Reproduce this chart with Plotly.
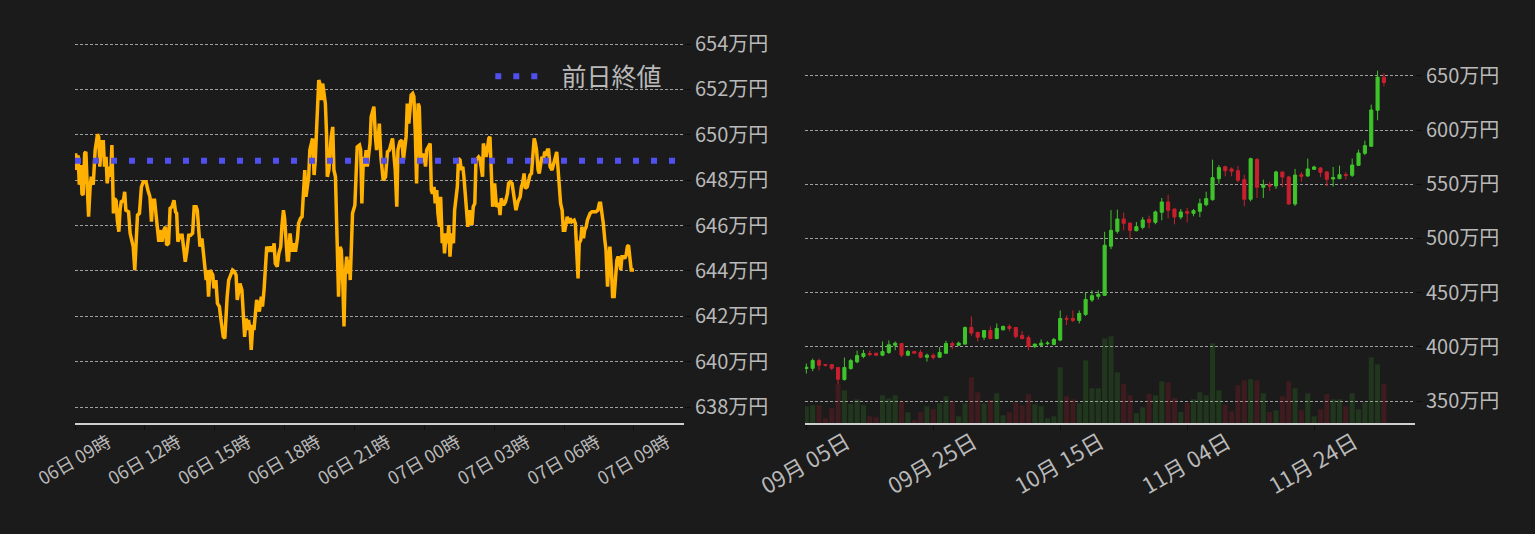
import plotly.graph_objects as go
import pandas as pd

# ---------------- data ----------------
# Intraday price (万円), minutes elapsed since 2023-12-06 09:00
intraday_minutes = [
    0, 2, 4, 8, 11, 15, 18, 21, 25, 28, 32, 35, 39, 42, 47, 52, 58, 61, 64, 68,
    73, 76, 80, 83, 88, 92, 95, 99, 102, 106, 109, 113, 116, 119, 125, 128, 131, 138, 142, 147,
    150, 154, 157, 161, 166, 171, 176, 183, 188, 193, 197, 200, 205, 209, 212, 216, 219, 224, 229, 233,
    236, 241, 245, 250, 255, 259, 262, 265, 271, 276, 279, 284, 288, 293, 298, 303, 307, 312, 315, 319,
    322, 327, 331, 334, 338, 341, 344,
    348, 355, 358, 363, 367, 372, 375, 379, 382, 386, 389, 392, 396, 401, 406, 411, 415, 418, 422, 425,
    430, 434, 437, 441, 444, 447, 451, 454, 458, 461, 465, 468, 471, 475, 480, 483, 487, 490, 494, 499,
    504, 509, 513, 516, 521, 525, 530, 533, 537, 540, 544, 547, 550, 554, 559, 564, 568, 573, 576, 581,
    585, 588, 592, 595, 599, 602, 605, 609, 612, 616, 619, 623, 626, 628, 631, 635, 638, 642, 645, 648,
    650, 654, 657, 660, 664, 667, 671, 674, 678, 679, 683, 686, 690, 693, 696, 700, 703, 707,
    709, 712, 715, 721, 724, 727, 733, 736, 739, 743, 746, 750, 753, 757, 760, 763, 767, 770, 774, 777,
    781, 784, 788, 791, 794, 800, 805, 810, 815, 818, 822, 825, 829, 832, 837, 842, 846, 849, 853, 856,
    860, 863, 866, 870, 873, 877, 880, 884, 887, 891, 894, 899, 903, 906, 911, 915, 918, 921, 925, 928,
    932, 935, 939, 942, 946, 949, 952, 956, 959, 963, 966, 970, 975, 978, 982, 985, 988, 992, 995, 999,
    1002, 1006, 1009, 1012, 1016, 1019, 1023, 1026, 1030, 1033, 1037, 1040, 1043, 1047, 1050, 1052, 1055, 1059, 1062, 1066,
    1069, 1073, 1076, 1081, 1086, 1092, 1095, 1098, 1104, 1109, 1114, 1117, 1121, 1126, 1129, 1133, 1136, 1141, 1147, 1150,
    1153, 1157, 1160, 1165, 1169, 1172, 1176, 1179, 1183, 1186, 1189, 1193, 1196, 1200, 1203, 1207, 1210, 1214, 1217, 1220,
    1224, 1229, 1232, 1238, 1241, 1244, 1248, 1251, 1255, 1258, 1262, 1265, 1268, 1272, 1275, 1280, 1286, 1289, 1292, 1296,
    1299, 1303, 1306, 1310, 1313, 1317, 1320, 1323, 1327, 1332, 1337, 1342, 1347, 1351, 1354, 1358, 1361, 1365, 1368, 1372,
    1375, 1378, 1382, 1385, 1389, 1392, 1396, 1399, 1402, 1406, 1409, 1413, 1416, 1420, 1423, 1426, 1430, 1433, 1437, 1440,
]
intraday_price = [
    648.5, 649.18, 648.45, 649.1, 647.8, 648.67, 647.4, 647.35, 649.18, 649.25, 647.56, 646.39, 647.71, 648.15, 647.8, 649.33, 650.03, 649.9, 648.6, 649.7,
    649.7, 648.6, 649.03, 647.86, 648.6, 648.15, 649.55, 646.54, 647.2, 647.1, 646.24, 645.73, 646.68, 647.05, 647.12, 647.49, 646.68, 646.61, 645.66, 645.36,
    645.07, 644.04, 645.36, 646.46, 646.54, 647.71, 647.93, 647.93, 647.56, 647.27, 646.17, 647.12, 647.12, 646.17, 645.95, 645.29, 645.8, 645.29, 645.8, 645.95,
    645.14, 645.22, 646.76, 646.83, 647.12, 646.61, 646.54, 645.29, 645.58, 645.58, 645.07, 644.41, 644.85, 645.58, 645.58, 645.66, 646.83, 646.83, 646.68, 645.8,
    645.07, 645.44, 644.85, 644.41, 643.6, 644.04, 642.87,
    644.04, 643.82, 643.23, 643.6, 642.57, 642.43, 641.99, 641.4, 641.1, 641.03, 642.28, 642.87, 643.6, 643.82, 644.04, 643.97, 643.82, 642.72, 643.09, 643.45,
    643.16, 641.55, 641.1, 641.91, 641.4, 641.84, 641.4, 640.52, 641.62, 641.4, 642.13, 642.72, 642.57, 642.21, 642.87, 642.43, 643.16, 644.04, 645.07, 644.85,
    645.07, 644.85, 645.22, 644.33, 644.19, 644.77, 645.07, 645.95, 646.68, 646.32, 645.07, 644.48, 644.48, 645.66, 644.85, 645.22, 644.85, 645.44, 646.1, 646.32,
    646.39, 647.27, 648.45, 647.27, 647.71, 648.15, 649.33, 649.62, 649.84, 648.23, 648.89, 650.5, 651.38, 652.41, 652.26, 651.53, 652.26, 651.82, 651.38, 650.06,
    648.15, 648.45, 649.47, 649.91, 650.35, 648.45, 648.15, 646.1, 644.19, 642.87, 645.07, 644.92, 643.45, 641.55, 643.82, 644.63, 643.89, 644.48,
    643.6, 645.07, 646.54, 646.9, 648.0, 649.47, 649.55, 649.33, 646.98, 649.03, 648.6, 649.33, 648.6, 649.33, 649.62, 650.8, 651.09, 651.24, 649.91, 649.33,
    649.77, 650.5, 649.03, 648.52, 648.0, 648.15, 649.25, 649.33, 649.7, 649.84, 649.03, 648.45, 646.83, 649.33, 649.7, 649.77, 648.89, 649.47, 649.91, 651.38,
    650.5, 651.09, 651.75, 651.82, 651.68, 649.91, 647.86, 651.38, 651.24, 648.81, 648.89, 649.18, 648.6, 649.33, 649.47, 649.62, 647.56, 647.41, 647.71, 646.98,
    647.56, 646.54, 645.95, 647.27, 645.22, 645.66, 644.78, 645.66, 645.22, 646.02, 644.63, 645.66, 645.22, 646.68, 647.27, 647.71, 648.96, 648.89, 648.45, 648.6,
    648.15, 647.27, 646.24, 645.95, 646.68, 646.1, 646.1, 646.83, 646.98, 648.89, 648.96, 649.03, 648.96, 648.45, 648.15, 649.62, 649.33, 649.03, 649.33, 649.84,
    649.91, 648.45, 646.83, 647.86, 646.83, 646.98, 646.46, 647.2, 646.9, 647.05, 647.41, 647.86, 647.93, 647.86, 647.56, 647.12, 646.68, 647.05, 647.27, 647.71,
    647.86, 648.3, 647.64, 647.71, 648.0, 648.23, 648.3, 649.03, 649.84, 649.62, 649.33, 648.45, 648.3, 648.74, 649.03, 648.89, 649.25, 649.18, 649.33, 649.33,
    648.6, 648.45, 648.67, 649.18, 649.25, 648.6, 647.71, 646.98, 646.68, 645.8, 645.8, 646.24, 646.39, 646.1, 646.32, 646.17, 646.24, 646.1, 644.78, 643.67,
    645.22, 645.36, 645.95, 645.44, 645.8, 645.95, 646.24, 646.39, 646.54, 646.61, 646.61, 646.61, 646.68, 646.98, 646.98, 646.54, 646.1, 645.36, 644.92, 643.31,
    644.7, 645.07, 644.04, 642.87, 642.87, 643.75, 644.48, 644.63, 644.48, 644.04, 644.63, 644.63, 644.55, 644.7, 645.07, 645.14, 644.63, 644.04, 644.04, 644.04,
]
prev_close = 648.86
intraday_start = "2023-12-06 09:00"
intraday_range = ["2023-12-06 09:00", "2023-12-07 11:09"]

# Daily candles (万円), consecutive days from 2023-09-05
daily_start = "2023-09-05"
daily_open = [
    380.0, 380.2, 387.3, 383.6, 383.6, 380.9, 369.8, 379.9, 386.1, 391.1,
    393.8, 394.1, 392.3, 394.8, 401.5, 403.1, 392.3, 395.7, 394.8, 390.4,
    392.3, 390.4, 394.1, 403.1, 401.5, 402.5, 417.9, 413.3, 408.9, 415.1,
    407.7, 415.7, 418.8, 417.9, 410.5, 408.6, 400.3, 401.5, 402.9, 402.2,
    406.2, 426.2, 426.2, 424.4, 429.9, 443.2, 446.6, 447.5, 492.9, 506.6,
    518.0, 514.3, 507.2, 510.3, 517.7, 514.9, 524.2, 533.7, 527.2, 519.8,
    524.8, 523.2, 525.1, 531.2, 535.8, 555.2, 566.3, 564.2, 562.6, 554.3,
    536.2, 572.8, 547.2, 549.4, 548.5, 561.4, 556.8, 531.8, 558.9, 557.7,
    563.8, 565.1, 561.4, 554.9, 555.2, 558.9, 558.3, 567.5, 578.6, 585.1,
    618.3, 648.9,
]
daily_high = [
    384.6, 389.2, 389.2, 384.0, 383.6, 381.5, 390.1, 388.9, 396.6, 397.2,
    396.6, 394.5, 404.9, 405.9, 404.9, 403.4, 397.2, 395.7, 397.2, 393.8,
    393.8, 399.7, 405.6, 404.9, 404.9, 418.8, 428.1, 414.0, 415.5, 418.8,
    421.6, 419.7, 420.7, 418.2, 414.5, 410.5, 403.1, 406.8, 405.2, 408.3,
    433.6, 429.0, 433.6, 433.6, 450.0, 452.2, 452.2, 506.2, 526.2, 526.6,
    523.8, 514.3, 515.2, 519.8, 521.1, 525.8, 537.4, 540.5, 527.5, 527.2,
    528.2, 527.2, 536.8, 543.2, 572.8, 567.8, 567.2, 565.7, 566.9, 558.9,
    574.6, 574.3, 554.3, 552.2, 562.6, 561.8, 557.7, 564.2, 561.4, 573.7,
    567.2, 566.0, 562.3, 566.0, 567.2, 561.4, 573.7, 582.0, 590.3, 623.5,
    654.9, 652.6,
]
daily_low = [
    375.3, 377.5, 378.4, 381.8, 378.7, 365.4, 368.8, 379.0, 384.9, 389.5,
    391.4, 391.7, 391.4, 393.5, 396.9, 390.4, 391.4, 394.1, 389.5, 386.4,
    388.3, 389.8, 393.5, 397.8, 400.9, 401.9, 410.2, 404.9, 406.2, 406.8,
    406.8, 415.1, 414.5, 407.7, 406.8, 396.9, 398.8, 400.3, 401.5, 401.5,
    405.2, 420.1, 422.8, 421.6, 428.4, 441.4, 443.8, 446.9, 490.1, 504.5,
    507.5, 499.8, 506.6, 508.5, 509.4, 513.1, 516.8, 518.6, 513.1, 517.7,
    514.9, 520.5, 519.8, 529.7, 534.9, 550.6, 557.4, 557.4, 551.8, 529.7,
    534.3, 537.4, 537.4, 543.8, 545.7, 547.5, 531.2, 530.0, 552.5, 556.8,
    563.5, 556.8, 548.2, 547.9, 554.9, 554.3, 556.8, 567.2, 576.8, 584.5,
    609.1, 640.4,
]
daily_close = [
    381.2, 387.3, 383.0, 383.0, 380.2, 370.1, 380.9, 387.3, 392.0, 393.8,
    392.9, 392.3, 395.7, 401.9, 403.4, 392.3, 395.7, 394.1, 390.4, 392.3,
    390.1, 394.8, 403.1, 401.5, 403.4, 417.9, 412.7, 408.9, 415.1, 407.7,
    417.0, 418.8, 417.0, 409.6, 407.7, 400.3, 402.5, 403.4, 403.4, 406.8,
    426.2, 425.6, 424.4, 430.9, 443.8, 447.2, 448.5, 493.8, 507.5, 518.0,
    514.0, 507.5, 510.9, 517.1, 514.9, 524.5, 533.7, 526.0, 519.8, 524.5,
    523.2, 525.7, 532.1, 536.8, 556.2, 565.4, 562.6, 562.0, 553.7, 536.2,
    573.7, 547.2, 549.4, 548.5, 561.4, 556.8, 531.8, 558.6, 557.4, 564.2,
    566.0, 561.1, 554.6, 556.2, 558.9, 558.3, 567.8, 578.9, 585.7, 618.6,
    648.9, 644.0,
]
daily_volume = [
    418, 443, 443, 118, 368, 975, 818, 475, 593, 443,
    168, 143, 693, 618, 693, 543, 268, 68, 268, 418,
    343, 493, 668, 543, 168, 493, 1143, 768, 493, 568,
    743, 193, 268, 518, 443, 718, 468, 418, 118, 168,
    1393, 668, 593, 493, 1568, 868, 868, 2118, 2168, 1268,
    975, 693, 243, 393, 725, 693, 1043, 1018, 625, 275,
    500, 593, 768, 693, 1993, 818, 458, 293, 943, 1068,
    1093, 1068, 743, 275, 318, 668, 1043, 868, 318, 743,
    168, 343, 725, 593, 593, 418, 743, 343, 518, 1643,
    1468, 975,
]
daily_range = ["2023-09-04 19:05", "2023-12-09 21:30"]

# ---------------- styling ----------------
BG = "#1b1b1b"
TXT = "#b9b9b9"
GRID = "#a0a0a0"
ORANGE = "#ffb000"
BLUE = "#5050f0"
UP = "#3fc42b"
DOWN = "#c8202e"
UP_VOL = "rgba(63,196,43,0.16)"
DOWN_VOL = "rgba(200,32,46,0.20)"
FONT = "Noto Sans CJK JP"

times = pd.Timestamp(intraday_start) + pd.to_timedelta(intraday_minutes, unit="min")
dates = pd.date_range(daily_start, periods=len(daily_open), freq="D")
vol_colors = [UP_VOL if c >= o else DOWN_VOL for o, c in zip(daily_open, daily_close)]

fig = go.Figure()

fig.add_trace(go.Scatter(
    x=times, y=intraday_price, mode="lines",
    line=dict(color=ORANGE, width=3.5), showlegend=False,
    xaxis="x", yaxis="y",
))
fig.add_trace(go.Scatter(
    x=intraday_range, y=[prev_close, prev_close], mode="lines",
    line=dict(color=BLUE, width=6, dash="6px,12px"), name="\u00a0\u00a0前日終値",
    xaxis="x", yaxis="y",
))

fig.add_trace(go.Bar(
    x=dates, y=daily_volume, marker=dict(color=vol_colors, line=dict(width=0)),
    showlegend=False, xaxis="x2", yaxis="y2",
))
fig.add_trace(go.Candlestick(
    x=dates, open=daily_open, high=daily_high, low=daily_low, close=daily_close,
    increasing=dict(line=dict(color=UP, width=1), fillcolor=UP),
    decreasing=dict(line=dict(color=DOWN, width=1), fillcolor=DOWN),
    showlegend=False, xaxis="x2", yaxis="y3",
))

tickfont_y = dict(family=FONT, size=20, color=TXT)

fig.update_layout(
    width=1535, height=534,
    paper_bgcolor=BG, plot_bgcolor=BG,
    margin=dict(l=75, r=120, t=40, b=111),
    font=dict(family=FONT, color=TXT),
    bargap=0.2,
    showlegend=True,
    legend=dict(
        x=0.442, xanchor="right", y=0.905, yanchor="middle",
        bgcolor="rgba(0,0,0,0)", font=dict(family=FONT, size=25, color=TXT),
        itemwidth=50,
    ),
    xaxis=dict(
        domain=[0, 0.4545], type="date", range=intraday_range,
        tick0=intraday_start, dtick=3 * 3600000, tickformat="%d日 %H時",
        tickangle=-30, ticklabelshift=33, ticklabelstandoff=-5,
        tickfont=dict(family=FONT, size=18, color=TXT),
        showgrid=False, zeroline=False,
        showline=True, linecolor="#cfcfcf", linewidth=2,
        ticks="outside", ticklen=5, tickcolor="#0d0d0d",
    ),
    yaxis=dict(
        anchor="x", side="right", range=[637.30, 654.18], dtick=2,
        ticksuffix="万円", tickfont=tickfont_y,
        showgrid=True, gridcolor=GRID, griddash="3px,2px", gridwidth=1,
        zeroline=False, showline=False,
        ticks="outside", ticklen=6, tickcolor="#0d0d0d",
    ),
    xaxis2=dict(
        domain=[0.5448, 1.0], type="date", range=daily_range, anchor="y2",
        tick0=daily_start, dtick=20 * 86400000, tickformat="%m月 %d日",
        tickangle=-30, ticklabelshift=40, ticklabelstandoff=-9,
        tickfont=dict(family=FONT, size=22, color=TXT),
        showgrid=False, zeroline=False, rangeslider=dict(visible=False),
        showline=True, linecolor="#cfcfcf", linewidth=2,
        ticks="outside", ticklen=5, tickcolor="#0d0d0d",
    ),
    yaxis2=dict(
        anchor="x2", range=[0, 9575], visible=False, showgrid=False,
    ),
    yaxis3=dict(
        anchor="x2", overlaying="y2", side="right", range=[329.7, 683.2], dtick=50,
        ticksuffix="万円", tickfont=tickfont_y,
        showgrid=True, gridcolor=GRID, griddash="3px,2px", gridwidth=1,
        zeroline=False, showline=False,
        ticks="outside", ticklen=6, tickcolor="#0d0d0d",
    ),
)

fig.write_html(
    "out.html",
    config={"displayModeBar": False},
    post_script="document.body.style.margin='0px';document.body.style.background='#1b1b1b';",
)
